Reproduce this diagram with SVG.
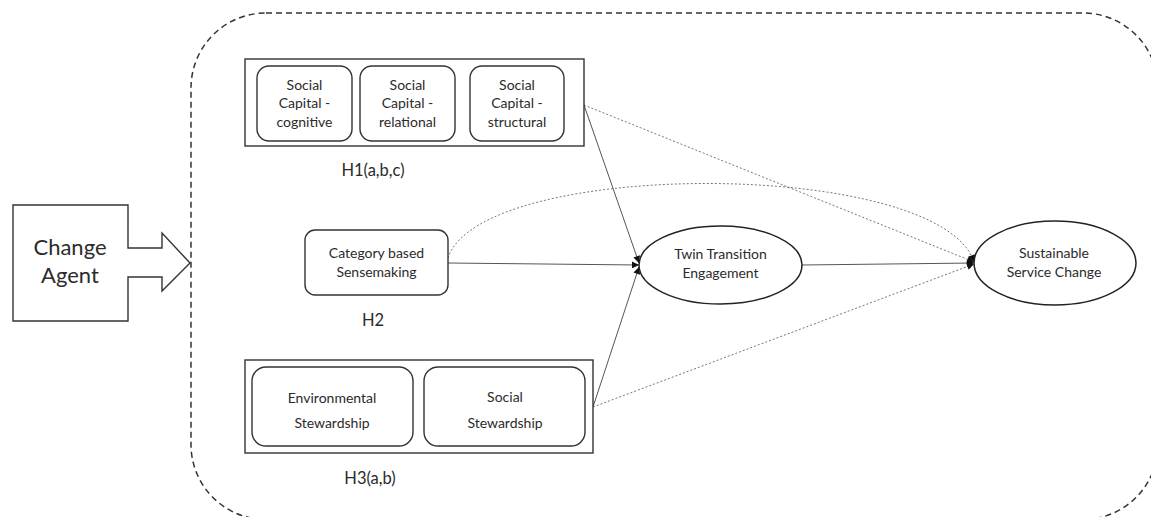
<svg xmlns="http://www.w3.org/2000/svg" width="1151" height="517" viewBox="0 0 1151 517">
<defs>
<style>
.frame{fill:none;stroke:#333;stroke-width:1.5;stroke-dasharray:6 4}
.box{fill:#fff;stroke:#333;stroke-width:1.4}
.rbox{fill:#fff;stroke:#333;stroke-width:1.4}
.ell{fill:#fff;stroke:#222;stroke-width:1.5}
.solid{fill:none;stroke:#555;stroke-width:1}
.dot{fill:none;stroke:#777;stroke-width:1;stroke-dasharray:2 2}
text{font-family:Lato,"Liberation Sans",sans-serif;fill:#2b2b2b;text-anchor:middle}
.t{font-size:14px}
.lbl{font-size:16.5px}
.big{font-size:22px}
</style>
<marker id="ah" viewBox="0 0 10 10" refX="10" refY="5" markerWidth="9" markerHeight="7" markerUnits="userSpaceOnUse" orient="auto">
<path d="M0,0 L10,5 L0,10 z" fill="#111"/>
</marker>
</defs>
<rect class="frame" x="191" y="13" width="967" height="506.5" rx="75" ry="75"/>
<g id="change-agent">
<path class="box" d="M13,205 H128 V248 H162 V233 L190,263 L162,291 V277 H128 V321 H13 Z"/>
<text class="big" x="70" y="255">Change</text>
<text class="big" x="70" y="283">Agent</text>
</g>
<g id="connectors">
<line class="solid" x1="584" y1="105" x2="639" y2="263" marker-end="url(#ah)"/>
<line class="solid" x1="448" y1="263" x2="639" y2="265" marker-end="url(#ah)"/>
<line class="solid" x1="593" y1="407" x2="639" y2="267" marker-end="url(#ah)"/>
<line class="solid" x1="802" y1="265" x2="974" y2="263" marker-end="url(#ah)"/>
<line class="dot" x1="584" y1="105" x2="974" y2="262" marker-end="url(#ah)"/>
<line class="dot" x1="593" y1="407" x2="974" y2="264" marker-end="url(#ah)"/>
<path class="dot" d="M448,258 C480,158 940,158 974,262" marker-end="url(#ah)"/>
</g>
<g id="h1">
<rect class="box" x="245" y="59" width="339" height="87"/>
<g id="sc-cognitive">
<rect class="rbox" x="257" y="66" width="95" height="75" rx="12"/>
<text class="t" x="304.5" y="90">Social</text>
<text class="t" x="304.5" y="108">Capital -</text>
<text class="t" x="304.5" y="127">cognitive</text>
</g>
<g id="sc-relational">
<rect class="rbox" x="360" y="66" width="95" height="75" rx="12"/>
<text class="t" x="407.5" y="90">Social</text>
<text class="t" x="407.5" y="108">Capital -</text>
<text class="t" x="407.5" y="127">relational</text>
</g>
<g id="sc-structural">
<rect class="rbox" x="470" y="66" width="94" height="75" rx="12"/>
<text class="t" x="517" y="90">Social</text>
<text class="t" x="517" y="108">Capital -</text>
<text class="t" x="517" y="127">structural</text>
</g>
<text class="lbl" x="373" y="176">H1(a,b,c)</text>
</g>
<g id="h2">
<rect class="rbox" x="305" y="230" width="143" height="65" rx="10"/>
<text class="t" x="376.5" y="258">Category based</text>
<text class="t" x="376.5" y="277">Sensemaking</text>
<text class="lbl" x="373" y="326">H2</text>
</g>
<g id="h3">
<rect class="box" x="245" y="360" width="348" height="93"/>
<g id="env-stewardship">
<rect class="rbox" x="252" y="367" width="161" height="79" rx="14"/>
<text class="t" x="332" y="403">Environmental</text>
<text class="t" x="332" y="428">Stewardship</text>
</g>
<g id="soc-stewardship">
<rect class="rbox" x="424" y="367" width="161" height="79" rx="14"/>
<text class="t" x="505" y="402">Social</text>
<text class="t" x="505" y="428">Stewardship</text>
</g>
<text class="lbl" x="370" y="484">H3(a,b)</text>
</g>
<g id="twin">
<ellipse class="ell" cx="720.5" cy="265" rx="81.5" ry="39"/>
<text class="t" x="720.5" y="259">Twin Transition</text>
<text class="t" x="720.5" y="278">Engagement</text>
</g>
<g id="sustainable">
<ellipse class="ell" cx="1055" cy="263" rx="81" ry="42"/>
<text class="t" x="1054" y="258">Sustainable</text>
<text class="t" x="1054" y="277">Service Change</text>
</g>
</svg>
